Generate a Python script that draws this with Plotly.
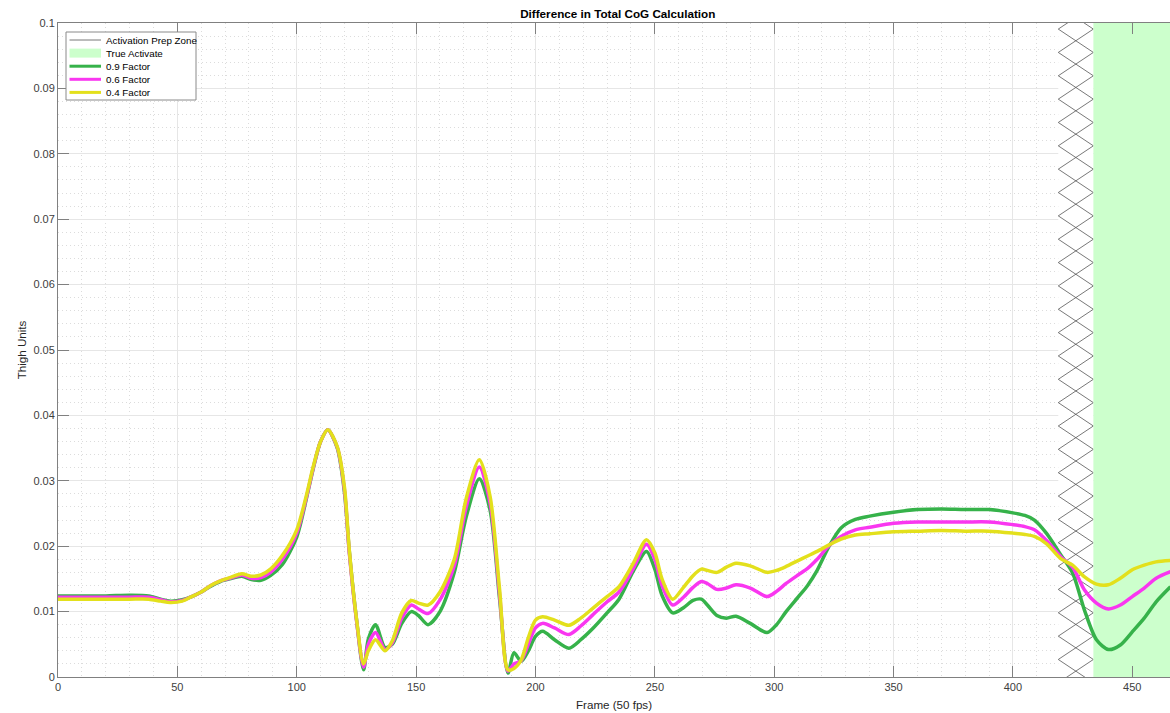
import numpy as np
import plotly.graph_objects as go

# ---------------- data ----------------
frames = [0, 10, 20, 30, 38, 43, 47, 52, 56, 60, 64, 68, 72, 77, 81, 85, 89, 94, 100,
          104, 107, 110, 113, 117, 120, 122, 125, 128, 130, 133, 137, 140, 144, 148,
          151, 155, 160, 166, 171, 176.5, 181, 185, 188.5, 191, 194, 197, 200, 203,
          208, 214, 219, 224, 230, 235, 241, 246.5, 250, 253, 257.5, 262, 266, 269.5,
          272, 276, 280, 284, 290, 297, 301, 305, 310, 314, 318, 323, 328, 334, 340,
          350, 360, 370, 380, 390, 400, 405, 409, 414, 420, 425, 430, 435, 440, 445,
          450, 455, 460, 466]

factor_09 = [0.0124, 0.0124, 0.0124, 0.0125, 0.0124, 0.0119, 0.0116, 0.0118, 0.0123, 0.0130,
             0.0139, 0.0146, 0.0150, 0.0154, 0.0149, 0.0148, 0.0155, 0.0172, 0.0214,
             0.0272, 0.0320, 0.0360, 0.0378, 0.0350, 0.0282, 0.0193, 0.0089, 0.0011, 0.0058,
             0.0080, 0.0045, 0.0050, 0.0082, 0.0100, 0.0094, 0.0080, 0.0100, 0.0160, 0.0245,
             0.0303, 0.0255, 0.0118, 0.0006, 0.0037, 0.0024, 0.0040, 0.0062, 0.0070,
             0.0057, 0.0044, 0.0057, 0.0074, 0.0098, 0.0119, 0.0162, 0.0192, 0.0165, 0.0125,
             0.0098, 0.0106, 0.0117, 0.0119, 0.0110, 0.0094, 0.0090, 0.0093, 0.0082, 0.0068,
             0.0080, 0.0100, 0.0122, 0.0140, 0.0163, 0.0200, 0.0228, 0.0241, 0.0246,
             0.0252, 0.0256, 0.0257, 0.0256, 0.0256, 0.0251, 0.0247, 0.0240, 0.0220, 0.0187,
             0.0159, 0.0102, 0.0057, 0.0042, 0.0049, 0.0069, 0.0090, 0.0115, 0.0138]

factor_06 = [0.0122, 0.0122, 0.0122, 0.0122, 0.0122, 0.0118, 0.0115, 0.0117, 0.0123, 0.0130,
             0.0140, 0.0147, 0.0151, 0.0156, 0.0151, 0.0152, 0.0160, 0.0180, 0.0220,
             0.0274, 0.0321, 0.0360, 0.0378, 0.0351, 0.0286, 0.0191, 0.0088, 0.0015, 0.0050,
             0.0068, 0.0042, 0.0052, 0.0090, 0.0110, 0.0104, 0.0097, 0.0118, 0.0170, 0.0260,
             0.0321, 0.0266, 0.0125, 0.0009, 0.0020, 0.0025, 0.0050, 0.0075, 0.0082,
             0.0075, 0.0065, 0.0078, 0.0095, 0.0115, 0.0130, 0.0166, 0.0203, 0.0180, 0.0140,
             0.0110, 0.0122, 0.0137, 0.0146, 0.0143, 0.0134, 0.0136, 0.0141, 0.0136, 0.0123,
             0.0131, 0.0143, 0.0156, 0.0166, 0.0180, 0.0201, 0.0215, 0.0225, 0.0229,
             0.0235, 0.0237, 0.0237, 0.0237, 0.0237, 0.0233, 0.0230, 0.0225, 0.0209, 0.0184,
             0.0168, 0.0133, 0.0113, 0.0104, 0.0110, 0.0123, 0.0136, 0.0151, 0.0161]

factor_04 = [0.0119, 0.0119, 0.0119, 0.0119, 0.0119, 0.0116, 0.0114, 0.0116, 0.0123, 0.0130,
             0.0140, 0.0147, 0.0152, 0.0158, 0.0154, 0.0156, 0.0165, 0.0186, 0.0225,
             0.0277, 0.0323, 0.0360, 0.0378, 0.0352, 0.0290, 0.0195, 0.0090, 0.0020, 0.0040,
             0.0057, 0.0040, 0.0055, 0.0098, 0.0117, 0.0113, 0.0110, 0.0130, 0.0180, 0.0273,
             0.0332, 0.0276, 0.0133, 0.0011, 0.0013, 0.0026, 0.0060, 0.0087, 0.0092,
             0.0087, 0.0079, 0.0090, 0.0105, 0.0123, 0.0138, 0.0174, 0.0210, 0.0190, 0.0150,
             0.0119, 0.0137, 0.0155, 0.0165, 0.0163, 0.0160, 0.0168, 0.0174, 0.0170, 0.0160,
             0.0163, 0.0169, 0.0178, 0.0185, 0.0192, 0.0202, 0.0211, 0.0217, 0.0219,
             0.0222, 0.0223, 0.0224, 0.0223, 0.0223, 0.0220, 0.0218, 0.0215, 0.0204, 0.0181,
             0.0171, 0.0153, 0.0142, 0.0141, 0.0151, 0.0164, 0.0171, 0.0176, 0.0178]

prep_zone = [419.0, 433.7]      # Activation Prep Zone (frames)
true_zone = [433.7, 480.0]      # True Activate (frames)
y_limits = [0, 0.1]
x_limits = [0, 465.8]

series_names = ["0.9 Factor", "0.6 Factor", "0.4 Factor"]
series_values = [factor_09, factor_06, factor_04]
series_colors = ["#36b24a", "#f936f0", "#e3e01c"]

prep_name = "Activation Prep Zone"
true_name = "True Activate"
prep_color = "#555555"
true_color = "#ccffcc"

# ---------------- figure ----------------
fig = go.Figure()

# white background of the prep zone (hides grid)
fig.add_trace(go.Scatter(
    x=[prep_zone[0], prep_zone[1], prep_zone[1], prep_zone[0], prep_zone[0]],
    y=[y_limits[0], y_limits[0], y_limits[1], y_limits[1], y_limits[0]],
    fill="toself", fillcolor="white", line=dict(width=0), mode="lines",
    showlegend=False, hoverinfo="skip"))

# cross hatch for prep zone
hatch_step = 0.00357
ys = np.arange(0.0955 + 3 * hatch_step, -2 * hatch_step, -hatch_step)
hx, hy = [], []
for start in (0, 1):
    for k, yv in enumerate(ys):
        hx.append(prep_zone[(k + start) % 2])
        hy.append(yv)
    hx.append(None)
    hy.append(None)
fig.add_trace(go.Scatter(
    x=hx, y=hy, mode="lines", name=prep_name, showlegend=False,
    line=dict(color=prep_color, width=0.8), hoverinfo="skip"))

# true activate zone
fig.add_trace(go.Scatter(
    x=[true_zone[0], true_zone[1], true_zone[1], true_zone[0], true_zone[0]],
    y=[y_limits[0], y_limits[0], y_limits[1], y_limits[1], y_limits[0]],
    fill="toself", fillcolor=true_color, line=dict(width=0, color=true_color),
    mode="lines", name=true_name, showlegend=False, hoverinfo="skip"))

for name, vals, col in zip(series_names, series_values, series_colors):
    fig.add_trace(go.Scatter(
        x=frames, y=vals, mode="lines", name=name, showlegend=False,
        line=dict(color=col, width=3.5, shape="spline", smoothing=0.8)))

font_family = "Liberation Sans, Arial, sans-serif"
axis_common = dict(
    showline=True, linecolor="#808080", linewidth=1,
    ticks="inside", ticklen=11, tickcolor="#808080", tickwidth=1,
    showgrid=True, gridcolor="#e6e6e6", gridwidth=1,
    zeroline=False,
    tickfont=dict(family=font_family, size=11, color="#404040"),
)

# ---------------- legend (MATLAB-like compact box) ----------------
W, H = 1170, 713
ML, MR, MT, MB = 58, 0, 23, 36
PW, PH = W - ML - MR, H - MT - MB


def px(xp):
    return (xp - ML) / PW


def py(yp):
    return (H - MB - yp) / PH


leg_left, leg_top, leg_w, leg_row = 66, 32, 130, 13.1
leg_rows = [prep_name, true_name] + series_names
leg_h = leg_row * len(leg_rows) + 2.5
shapes = [dict(type="rect", xref="paper", yref="paper", layer="above",
               x0=px(leg_left), x1=px(leg_left + leg_w),
               y0=py(leg_top + leg_h), y1=py(leg_top),
               fillcolor="white", line=dict(color="#8a8a8a", width=1))]
annotations = []
sw0, sw1, txt_x = leg_left + 3.5, leg_left + 35, leg_left + 38
for i, label in enumerate(leg_rows):
    yc = leg_top + 8 + i * leg_row
    if i == 0:
        shapes.append(dict(type="line", xref="paper", yref="paper", layer="above",
                           x0=px(sw0), x1=px(sw1), y0=py(yc), y1=py(yc),
                           line=dict(color=prep_color, width=0.8)))
    elif i == 1:
        shapes.append(dict(type="rect", xref="paper", yref="paper", layer="above",
                           x0=px(sw0), x1=px(sw1), y0=py(yc + 4.5), y1=py(yc - 4.5),
                           fillcolor=true_color, line=dict(width=0)))
    else:
        shapes.append(dict(type="line", xref="paper", yref="paper", layer="above",
                           x0=px(sw0), x1=px(sw1), y0=py(yc), y1=py(yc),
                           line=dict(color=series_colors[i - 2], width=3)))
    annotations.append(dict(text=label, xref="paper", yref="paper",
                            x=px(txt_x), y=py(yc), xanchor="left", yanchor="middle",
                            showarrow=False,
                            font=dict(family=font_family, size=9.8, color="#000000")))

fig.update_layout(
    width=W, height=H,
    margin=dict(l=ML, r=MR, t=MT, b=MB),
    paper_bgcolor="white", plot_bgcolor="white",
    font=dict(family=font_family, size=11, color="#262626"),
    showlegend=False,
    title=dict(text="<b>Difference in Total CoG Calculation</b>",
               x=0.528, xanchor="center", y=1 - 14 / H, yanchor="middle",
               yref="container", font=dict(size=11.7, color="#000000")),
    xaxis=dict(range=x_limits, tick0=0, dtick=50, mirror="ticks",
               minor=dict(dtick=10, showgrid=True, griddash="1px,3px",
                          gridcolor="#dcdcdc", ticks=""),
               title=dict(text="Frame (50 fps)", standoff=8,
                          font=dict(size=11.6, color="#262626")),
               **axis_common),
    yaxis=dict(range=y_limits, tick0=0, dtick=0.01, mirror=False,
               minor=dict(dtick=0.002, showgrid=True, griddash="1px,3px",
                          gridcolor="#dcdcdc", ticks=""),
               title=dict(text="Thigh Units", standoff=4,
                          font=dict(size=11.6, color="#262626")),
               **axis_common),
    shapes=shapes,
    annotations=annotations,
)

fig.write_html("out.html")
